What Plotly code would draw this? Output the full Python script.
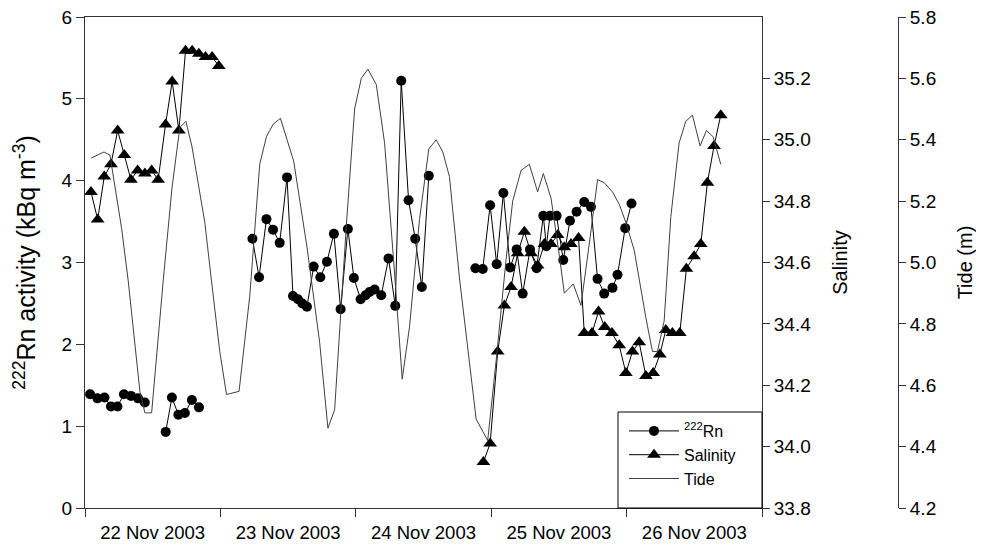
import pandas as pd
import plotly.graph_objects as go

START = pd.Timestamp("2003-11-22 00:00")

# 222Rn activity (kBq m-3); times in hours since 22 Nov 2003 00:00
rn_hours_1 = [0.9, 2.2, 3.45, 4.6, 5.75, 6.9, 8.15, 9.4, 10.6]
rn_vals_1 = [1.39, 1.34, 1.35, 1.24, 1.24, 1.39, 1.37, 1.34, 1.29]
rn_hours_2 = [14.3, 15.4, 16.55, 17.7, 18.95, 20.2]
rn_vals_2 = [0.93, 1.35, 1.14, 1.16, 1.32, 1.23]
rn_hours_3 = [29.68, 30.85, 32.16, 33.33, 34.51, 35.81, 36.87, 37.75, 38.53, 39.34,
              40.53, 41.71, 42.88, 44.12, 45.31, 46.60, 47.66, 48.85, 49.73, 50.44,
              51.33, 52.51, 53.80, 54.99, 56.05, 57.35, 58.53, 59.70, 60.94]
rn_vals_3 = [3.29, 2.82, 3.53, 3.40, 3.24, 4.04, 2.59, 2.55, 2.50, 2.46,
             2.95, 2.82, 3.01, 3.35, 2.43, 3.41, 2.81, 2.55, 2.60, 2.64,
             2.67, 2.60, 3.05, 2.47, 5.22, 3.76, 3.29, 2.70, 4.06]
rn_hours_4 = [69.20, 70.50, 71.81, 72.97, 74.16, 75.35, 76.51, 77.58, 78.88, 80.05,
              81.24, 81.77, 82.42, 83.59, 84.77, 85.96, 87.13, 88.49, 89.68, 90.85,
              92.03, 93.50, 94.39, 95.75, 96.87]
rn_vals_4 = [2.93, 2.92, 3.70, 2.98, 3.85, 2.94, 3.16, 2.62, 3.16, 2.93,
             3.57, 3.20, 3.57, 3.57, 3.03, 3.51, 3.62, 3.74, 3.68, 2.80,
             2.62, 2.69, 2.85, 3.42, 3.72]

# Salinity
sal_hours_1 = [1.06, 2.25, 3.42, 4.60, 5.79, 6.96, 8.14, 9.33, 10.62, 11.81,
               12.97, 14.28, 15.45, 16.64, 17.82, 18.99, 20.18, 21.36, 22.53, 23.72]
sal_vals_1 = [34.83, 34.74, 34.88, 34.92, 35.03, 34.95, 34.87, 34.90, 34.89, 34.90,
              34.87, 35.05, 35.19, 35.03, 35.29, 35.29, 35.28, 35.27, 35.27, 35.24]
sal_hours_2 = [70.62, 71.81, 73.15, 74.34, 75.52, 76.69, 77.88, 79.06, 80.23, 81.42,
               82.60, 83.77, 84.96, 86.14, 87.49, 88.50, 89.86, 91.03, 92.12, 93.40,
               94.69, 95.88, 97.04, 98.23, 99.42, 100.71, 101.89, 102.95, 104.12, 105.43,
               106.60, 107.96, 109.15, 110.32, 111.50, 112.69]
sal_vals_2 = [33.95, 34.01, 34.31, 34.46, 34.52, 34.63, 34.70, 34.63, 34.59, 34.66,
              34.66, 34.69, 34.65, 34.66, 34.68, 34.37, 34.37, 34.44, 34.39, 34.37,
              34.33, 34.24, 34.31, 34.34, 34.23, 34.24, 34.30, 34.38, 34.37, 34.37,
              34.58, 34.62, 34.66, 34.86, 34.98, 35.08]

# Tide (m)
tide_hours = [1.06, 2.12, 3.36, 4.42, 6.50, 7.66, 9.73, 10.62, 11.81, 13.86,
              15.40, 16.81, 17.88, 18.94, 21.24, 22.42, 23.89, 25.08, 27.31, 29.20,
              30.97, 32.16, 33.33, 34.64, 36.99, 39.35, 41.59, 43.06, 44.25, 46.32,
              47.79, 48.97, 50.14, 51.63, 53.10, 54.69, 56.23, 57.52, 59.29, 60.94,
              62.25, 63.42, 64.60, 66.37, 68.14, 69.33, 70.50, 71.38, 72.87, 74.64,
              75.81, 77.29, 78.76, 80.23, 81.24, 82.60, 83.95, 84.96, 86.55, 87.91,
              89.38, 90.85, 92.04, 93.50, 94.69, 95.88, 97.35, 98.23, 99.42, 100.58,
              101.47, 102.66, 103.84, 105.31, 106.49, 107.67, 109.03, 110.15, 111.33, 112.09,
              112.69]
tide_vals = [5.34, 5.35, 5.36, 5.35, 5.11, 4.94, 4.58, 4.51, 4.51, 4.94,
             5.24, 5.44, 5.46, 5.38, 5.13, 4.94, 4.71, 4.57, 4.58, 4.89,
             5.32, 5.41, 5.45, 5.47, 5.33, 5.05, 4.74, 4.46, 4.52, 5.12,
             5.50, 5.60, 5.63, 5.58, 5.39, 5.01, 4.62, 4.79, 5.14, 5.37,
             5.40, 5.36, 5.28, 4.95, 4.67, 4.49, 4.45, 4.42, 4.68, 5.01,
             5.20, 5.30, 5.32, 5.23, 5.29, 5.21, 5.04, 4.90, 4.93, 4.86,
             5.06, 5.27, 5.26, 5.23, 5.19, 5.13, 5.04, 4.94, 4.82, 4.71,
             4.71, 4.81, 5.15, 5.39, 5.46, 5.48, 5.38, 5.43, 5.41, 5.36,
             5.32]

sal_ticks = [33.8, 34.0, 34.2, 34.4, 34.6, 34.8, 35.0, 35.2]


def to_time(hours):
    return list(START + pd.to_timedelta(hours, unit="h"))


def join(segments):
    xs, ys = [], []
    for i, (h, v) in enumerate(segments):
        if i:
            xs.append(None)
            ys.append(None)
        xs += to_time(h)
        ys += list(v)
    return xs, ys


rn_x, rn_y = join([(rn_hours_1, rn_vals_1), (rn_hours_2, rn_vals_2),
                   (rn_hours_3, rn_vals_3), (rn_hours_4, rn_vals_4)])
sal_x, sal_y = join([(sal_hours_1, sal_vals_1), (sal_hours_2, sal_vals_2)])
tide_x = to_time(tide_hours)

FONT = "Liberation Sans, Arial, sans-serif"
AX = "#333333"

fig = go.Figure()
fig.add_trace(go.Scatter(
    x=rn_x, y=rn_y, name="<sup>222</sup>Rn", mode="lines+markers",
    line=dict(color="black", width=1),
    marker=dict(symbol="circle", size=10, color="black"),
    connectgaps=False, yaxis="y"))
fig.add_trace(go.Scatter(
    x=sal_x, y=sal_y, name="Salinity", mode="lines+markers",
    line=dict(color="black", width=1),
    marker=dict(symbol="triangle-up", size=12, color="black"),
    connectgaps=False, yaxis="y2"))
fig.add_trace(go.Scatter(
    x=tide_x, y=tide_vals, name="Tide", mode="lines",
    line=dict(color="#404040", width=1), yaxis="y3"))

# page has an 8px body margin, so the figure is sized to fit the window
W, H = 976, 537
ML, MR, MT, MB = 77, 86, 9, 37
plot_w = W - ML - MR
plot_h = H - MT - MB
x_end = (754 - ML) / plot_w

# legend frame, flush with bottom-right corner of the plot
box_x0 = (610 - ML) / plot_w
box_y1 = (500 - 404) / plot_h

fig.add_shape(type="rect", xref="paper", yref="paper",
              x0=box_x0, x1=x_end, y0=0, y1=box_y1,
              line=dict(color="black", width=1), fillcolor="white",
              layer="above")

fig.update_layout(
    width=W, height=H,
    margin=dict(l=ML, r=MR, t=MT, b=MB, autoexpand=False),
    paper_bgcolor="white", plot_bgcolor="white",
    font=dict(family=FONT, size=17, color="black"),
    showlegend=True,
    legend=dict(x=(616 - ML) / plot_w, xanchor="left",
                y=(500 - 406) / plot_h, yanchor="top",
                borderwidth=0, bgcolor="rgba(0,0,0,0)",
                font=dict(size=16), itemwidth=50, tracegroupgap=0),
    xaxis=dict(
        type="date", domain=[0, x_end], automargin=False,
        range=[START, START + pd.Timedelta(days=5)],
        tick0=START, dtick=86400000, tickformat="%d %b %Y",
        ticklabelmode="period", ticks="outside", ticklen=8, tickcolor=AX,
        showline=True, linecolor=AX, mirror=True, showgrid=False, zeroline=False,
        ticklabeloverflow="allow", tickfont=dict(size=18.5)),
    yaxis=dict(
        range=[0, 6], dtick=1, ticks="outside", ticklen=8, tickcolor=AX,
        showline=True, linecolor=AX, showgrid=False, zeroline=False,
        automargin=False, ticklabeloverflow="allow", tickfont=dict(size=19),
        title=dict(text="<sup>222</sup>Rn activity (kBq m<sup>-3</sup>)",
                   font=dict(size=25), standoff=18)),
    yaxis2=dict(
        overlaying="y", side="right", anchor="x", automargin=False,
        range=[33.8, 35.4], tickvals=sal_ticks,
        ticktext=[f"{v:.1f}" for v in sal_ticks],
        ticks="outside", ticklen=7, tickcolor=AX,
        showline=True, linecolor=AX, showgrid=False, zeroline=False,
        ticklabeloverflow="allow", tickfont=dict(size=19),
        title=dict(text="Salinity", font=dict(size=20), standoff=22)),
    yaxis3=dict(
        overlaying="y", side="right", anchor="free", position=1.0,
        automargin=False,
        range=[4.2, 5.8], dtick=0.2, tick0=4.2, tickformat=".1f",
        ticks="outside", ticklen=7, tickcolor=AX,
        showline=True, linecolor=AX, showgrid=False, zeroline=False,
        ticklabeloverflow="allow", tickfont=dict(size=19),
        title=dict(text="Tide (m)", font=dict(size=20), standoff=22)),
)

fig.write_html("out.html")
